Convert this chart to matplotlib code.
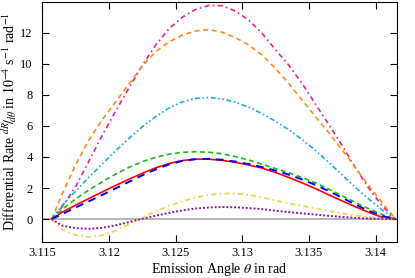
import matplotlib
matplotlib.use("Agg")
import matplotlib.pyplot as plt

theta = [3.1157, 3.1165, 3.1175, 3.1185, 3.1195, 3.1205, 3.1215, 3.1225, 3.1235, 3.1245,
         3.1255, 3.1265, 3.1275, 3.1285, 3.1295, 3.1305, 3.1315, 3.1325, 3.1335, 3.1345,
         3.1355, 3.1365, 3.1375, 3.1385, 3.1395, 3.1405, 3.1415]

magenta = [0.0, 0.8, 2.1, 3.75, 5.4, 6.95, 8.45, 9.9, 11.2, 12.25,
           13.0, 13.5, 13.76, 13.74, 13.39, 12.8, 11.95, 10.9, 9.9, 8.72,
           7.4, 6.08, 4.73, 3.3, 1.98, 0.85, 0.0]
orange = [0.0, 1.65, 3.5, 5.1, 6.4, 7.55, 8.7, 9.85, 10.78, 11.4,
          11.85, 12.12, 12.2, 12.03, 11.68, 11.2, 10.55, 9.7, 8.72, 7.65,
          6.6, 5.55, 4.45, 3.3, 2.15, 1.05, 0.0]
cyan = [0.0, 0.9, 1.8, 2.7, 3.55, 4.4, 5.2, 5.95, 6.6, 7.15,
        7.55, 7.77, 7.83, 7.74, 7.52, 7.2, 6.78, 6.3, 5.75, 5.12,
        4.42, 3.64, 2.84, 2.04, 1.28, 0.6, 0.0]
green = [0.0, 0.62, 1.3, 1.88, 2.4, 2.9, 3.33, 3.7, 3.98, 4.18,
         4.3, 4.34, 4.31, 4.2, 4.02, 3.8, 3.53, 3.25, 2.98, 2.68,
         2.33, 1.93, 1.5, 1.07, 0.66, 0.3, 0.0]
red = [0.0, 0.45, 0.9, 1.33, 1.75, 2.17, 2.57, 2.95, 3.3, 3.58,
       3.77, 3.86, 3.86, 3.78, 3.65, 3.48, 3.28, 3.0, 2.68, 2.33,
       1.96, 1.56, 1.17, 0.79, 0.43, 0.12, 0.0]
blue = [0.0, 0.33, 0.75, 1.15, 1.56, 1.98, 2.4, 2.82, 3.2, 3.52,
        3.75, 3.86, 3.88, 3.82, 3.7, 3.54, 3.35, 3.12, 2.86, 2.55,
        2.2, 1.8, 1.37, 0.93, 0.53, 0.2, 0.0]
yellow = [0.0, -0.7, -1.03, -1.15, -1.05, -0.75, -0.33, 0.1, 0.5, 0.85,
          1.15, 1.39, 1.56, 1.65, 1.65, 1.56, 1.4, 1.2, 1.01, 0.85,
          0.69, 0.52, 0.37, 0.23, 0.12, 0.04, 0.0]
purple = [0.0, -0.42, -0.58, -0.62, -0.56, -0.4, -0.19, 0.03, 0.22, 0.4,
          0.56, 0.68, 0.75, 0.78, 0.76, 0.71, 0.64, 0.54, 0.45, 0.37,
          0.29, 0.21, 0.14, 0.08, 0.035, 0.01, 0.0]

xticks = [3.115, 3.12, 3.125, 3.13, 3.135, 3.14]
xticklabels = ["3.115", "3.12", "3.125", "3.13", "3.135", "3.14"]
yticks = [0, 2, 4, 6, 8, 10, 12]

plt.rcParams['font.family'] = ['Liberation Serif', 'DejaVu Serif']
plt.rcParams['mathtext.fontset'] = 'stix'

fig = plt.figure(figsize=(4.15, 2.78), dpi=100)
ax = fig.add_axes([0.102, 0.128, 0.854, 0.866])

ax.axhline(0, color='#b0b0b0', lw=1.3, zorder=1)

ax.plot(theta, magenta, color='#e8208f', lw=1.2, ls=(0, (3, 2, 1, 2)))
ax.plot(theta, orange, color='#ff8c1a', lw=1.2, ls=(0, (3, 2.2)))
ax.plot(theta, cyan, color='#1aaee8', lw=1.2, ls=(0, (3, 1.5, 1, 1.5, 1, 1.5)))
ax.plot(theta, green, color='#1fb51f', lw=1.2, ls=(0, (3, 2)))
ax.plot(theta, red, color='#ff0000', lw=1.2, ls='-')
ax.plot(theta, blue, color='#0000ff', lw=1.4, ls=(0, (4, 3)))
ax.plot(theta, yellow, color='#f5d040', lw=1.2, ls=(0, (3, 2, 1, 2)))
ax.plot(theta, purple, color='#8a1a9a', lw=1.4, ls=(0, (1, 1)))

ax.set_xlim(3.115, 3.14159)
ax.set_ylim(-1.5, 14)
ax.set_xticks(xticks)
ax.set_xticklabels(xticklabels)
ax.set_yticks(yticks)
ax.tick_params(direction='in', length=5, width=0.8, top=True, right=True, labelsize=9)
ax.tick_params(axis='x', pad=3.5)
ax.tick_params(axis='y', pad=7)
for s in ax.spines.values():
    s.set_linewidth(0.8)

ax.set_xlabel(r'Emission Angle $\theta$ in rad', fontsize=10, labelpad=1.5)
ax.set_ylabel(r'Differential Rate $^{dR}\!/\!_{d\theta}$ in $10^{-4}$ s$^{-1}$ rad$^{-1}$',
              fontsize=10, labelpad=0.5)

fig.savefig('out.png', dpi=100)
